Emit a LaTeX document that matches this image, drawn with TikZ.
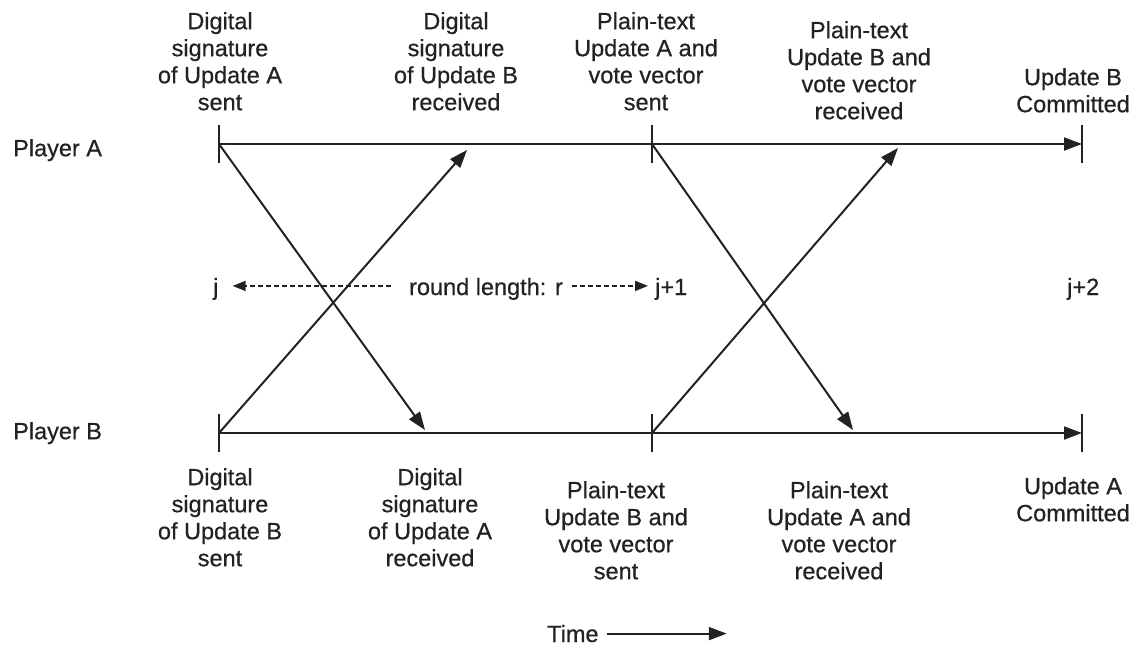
\documentclass[tikz,border=0pt]{standalone}
\usepackage{fontspec}
\setmainfont{Liberation Sans}[FakeBold=0.6]
\usetikzlibrary{arrows.meta}
\definecolor{ink}{RGB}{34,34,34}
\begin{document}
\begin{tikzpicture}[x=1pt,y=-1pt,
  inkline/.style={line width=2pt, draw=ink},
  msg/.style={inkline, -{Triangle[length=18pt,width=13pt]}},
  dotarrow/.style={draw=ink, line width=1.6pt, dash pattern=on 4.5pt off 3.5pt,
    -{Triangle[length=13pt,width=10pt]}},
  txt/.style={inner sep=0pt, text=ink, font=\fontsize{23.5}{27}\selectfont},
  lbl/.style={txt, align=center, anchor=north}]
\useasboundingbox (0,0) rectangle (1145,646);

% event points on the two time lines
\coordinate (a0) at (219,144);
\coordinate (a1) at (652,144);
\coordinate (a2) at (1082,144);
\coordinate (b0) at (219,433);
\coordinate (b1) at (652,433);
\coordinate (b2) at (1082,433);
% arrival points of the messages
\coordinate (ra1) at (467,150);
\coordinate (rb1) at (425,430);
\coordinate (ra2) at (898,148);
\coordinate (rb2) at (853,430);

% player names
\node[txt, anchor=north west] (pa) at (13,139) {Player A};
\node[txt, anchor=north west] (pb) at (13,422) {Player B};

% time lines with tick marks
\draw[msg] (a0) -- (a2);
\draw[msg] (b0) -- (b2);
\foreach \p in {a0,a1,a2,b0,b1,b2}
  \draw[inkline] ([yshift=19pt]\p) -- ([yshift=-19pt]\p);

% messages crossing between the players
\draw[msg] (a0) -- (rb1);
\draw[msg] (b0) -- (ra1);
\draw[msg] (a1) -- (rb2);
\draw[msg] (b1) -- (ra2);

% events of player A
\node[lbl] (ta1) at (220,12) {Digital\\signature\\of Update A\\sent};
\node[lbl] (ta2) at (456,12) {Digital\\signature\\of Update B\\received};
\node[lbl] (ta3) at (646,12) {Plain-text\\Update A and\\vote vector\\sent};
\node[lbl] (ta4) at (859,21) {Plain-text\\Update B and\\vote vector\\received};
\node[lbl] (ta5) at (1073,68) {Update B\\Committed};

% events of player B
\node[lbl] (ba1) at (220,468) {Digital\\signature\\of Update B\\sent};
\node[lbl] (ba2) at (430,468) {Digital\\signature\\of Update A\\received};
\node[lbl] (ba3) at (616,481) {Plain-text\\Update B and\\vote vector\\sent};
\node[lbl] (ba4) at (839,481) {Plain-text\\Update A and\\vote vector\\received};
\node[lbl] (ba5) at (1073,477) {Update A\\Committed};

% round numbers and round length
\node[txt, anchor=base west] (j0) at (213,295) {j};
\node[txt, anchor=base west] (j1) at (655,295) {j+1};
\node[txt, anchor=base west] (j2) at (1067,295) {j+2};
\node[txt, anchor=base] (rl) at (486,295) {round length: r};
\draw[dotarrow] ([xshift=-18pt,yshift=3pt]rl.west) -- ([xshift=14pt,yshift=3pt]j0.east);
\draw[dotarrow] ([xshift=9pt,yshift=3pt]rl.east) -- ([xshift=-7pt,yshift=3pt]j1.west);

% time axis
\node[txt, anchor=base west] (time) at (547,642) {Time};
\draw[msg] ([xshift=8pt]time.east) -- ([xshift=128pt]time.east);
\end{tikzpicture}
\end{document}
